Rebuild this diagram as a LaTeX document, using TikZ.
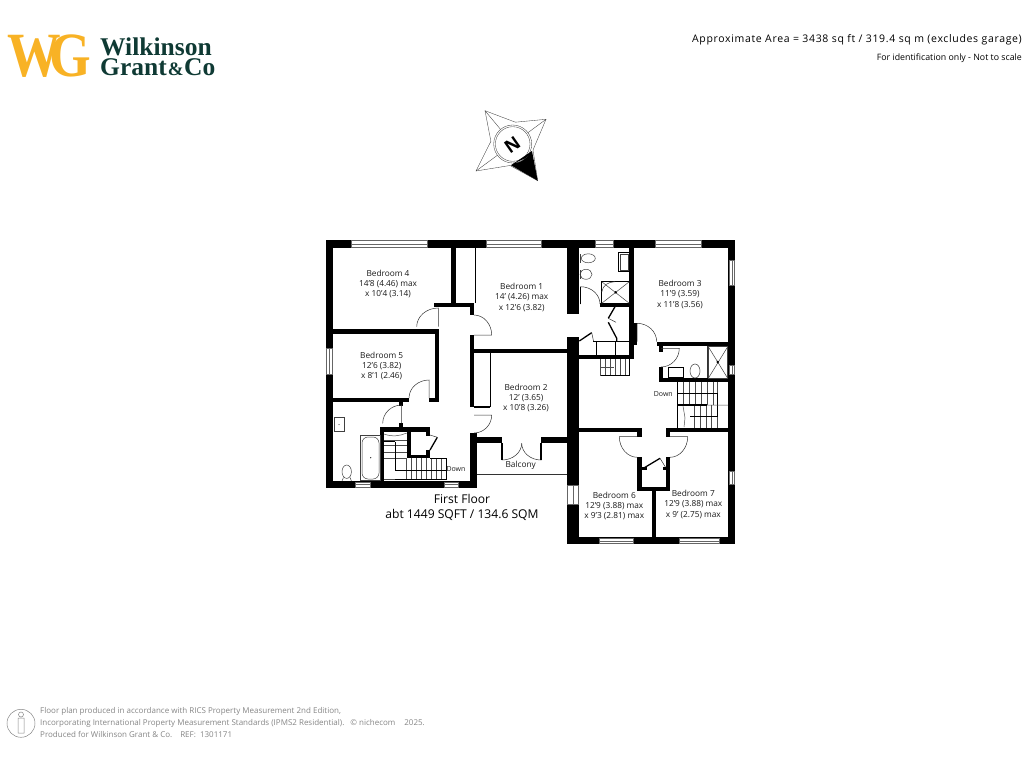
\documentclass[tikz,border=0pt]{standalone}
\usepackage{fontspec}
\usetikzlibrary{calc}
\setmainfont{Open Sans}
\newfontfamily\logofont{Liberation Serif}
\newfontfamily\widefont[LetterSpace=6.3]{Open Sans}
\definecolor{logoyellow}{HTML}{F8B225}
\definecolor{logogreen}{HTML}{0F3A34}
\definecolor{footgrey}{HTML}{858585}
\tikzset{
  wall/.style={fill=black,draw=none},
  windowpane/.style={fill=white,draw=black!60,line width=0.45pt},
  fixture/.style={draw=black!75,line width=0.5pt},
  tread/.style={draw=black!70,line width=0.5pt},
  doorline/.style={draw=black!80,line width=0.5pt},
  thickleaf/.style={draw=black,line width=1.3pt},
  roomlabel/.style={font=\fontsize{8.3}{10.2}\selectfont,align=center,text=black!90,inner sep=0pt},
  footline/.style={font=\fontsize{8}{9}\selectfont,text=footgrey,anchor=west,inner sep=0pt},
}
% leaf from hinge to start, then quarter swing to end
\newcommand{\doorswing}[3]{\draw[doorline] (#1) -- (#2) .. controls ($(#2)+.55*(#3)-.55*(#1)$) and ($(#3)+.55*(#2)-.55*(#1)$) .. (#3);}
\begin{document}
\begin{tikzpicture}[x=1pt,y=-1pt]
  \useasboundingbox (0,0) rectangle (1024,768);
  % logo
  \node[font=\logofont\bfseries\fontsize{63}{63}\selectfont,text=logoyellow,anchor=west,inner sep=0pt] (logowg) at (7,56) {\scalebox{0.85}[1]{W\kern-13ptG}};
  \node[font=\logofont\bfseries\fontsize{25.5}{20.5}\selectfont,text=logogreen,anchor=west,align=left,inner sep=0pt] (logoname) at (100,57) {Wilkinson\\Grant\kern1pt{\fontsize{19}{20.5}\selectfont\&}\kern0.5ptCo};
  % header
  \node[font=\widefont\fontsize{10.5}{11}\selectfont,anchor=east,inner sep=0pt] (areatext) at (1022,39.3) {Approximate Area = 3438 sq ft / 319.4 sq m (excludes garage)};
  \node[font=\fontsize{8.8}{9}\selectfont,anchor=east,inner sep=0pt] (scaletext) at (1022,57.7) {For identification only - Not to scale};
  % compass
  \draw[fixture,line width=0.35pt,fill=white] (485,110.7) -- (515.4,122.2) -- (546,119.3) -- (533,150) -- (537.7,180.7) -- (510,165.5) -- (476,171) -- (490.9,141.3) -- cycle;
  \draw[fixture,line width=0.35pt] (485,110.7) -- (512.7,144) (546,119.3) -- (512.7,144) (476,171) -- (512.7,144);
  \fill[black] (511,165.3) -- (532,151) -- (537.7,180.7) -- cycle;
  \draw[fixture,line width=0.35pt,fill=white] (512.7,144) circle (19);
  \draw[fixture,line width=0.35pt] (512.7,144) circle (17.3);
  \fill[black] (511,165.3) -- (532,151) -- (526,158) -- (517,162) -- cycle;
  \node[font=\bfseries\fontsize{18}{18}\selectfont,rotate=-145,inner sep=0pt] (northmark) at (512.3,145) {N};
  % walls
  \foreach \xa/\ya/\xb/\yb in {326/240/735/247.5, 326/240/333/487.5, 326/481/476.5/487.5,
    333/329/439/333.7, 434.7/329/439/401.7, 429/397.7/439/401.7, 333/397.7/409/401.7,
    399.3/401.7/403.3/405.7, 399.3/423.3/403.3/427.3, 434/302.7/473.7/307.3,
    451.3/248/456/303, 470/307/474/315, 470/335/474/406.7, 470/433/476.7/487.5,
    470/349/567/353.3, 474/437.3/502/443.3, 541/437.3/567/443.3,
    567/248/579/314, 567/336.7/579/544, 380/427.3/384/485, 380/427.3/430/431.7,
    407/431/411/458.3, 407/455/430/458.3, 426/431/430/436, 426/450/430/458,
    728.3/240/735/544, 567/537.3/735/544.3, 629.3/248/634/359, 579/355/634/359,
    600/303/634/307, 634/323.3/637.3/345, 656.7/341.7/735/345.7, 659/345/662.7/352,
    659/367/662.7/382, 659/378.3/735/382.3, 579/427.7/641.7/432.3, 666/427.7/735/432.3,
    637/432/641.7/437, 666/432/670/437, 637/457/641.7/490.7, 666/457/670/490.7,
    637/486.7/670/490.7, 651.7/490/656/537}
    \fill[wall] (\xa,\ya) rectangle (\xb,\yb);
  % windows
  \foreach \xa/\ya/\xb/\yb in {351.7/240.5/427.3/247, 486/240.5/541.7/247, 595/240.5/613.3/247, 655/240.5/701.7/247,
    355/482/370.7/487, 444/482/458.3/487, 599/538/633.3/543.5, 679/538/719.3/543.5}
    \draw[windowpane] (\xa,\ya) rectangle (\xb,\yb) (\xa,{(\ya+\yb)/2}) -- (\xb,{(\ya+\yb)/2});
  \foreach \xa/\ya/\xb/\yb in {326.5/348.3/332.5/374.3, 729/260/734.5/285, 729/365.7/734.5/374.3,
    729/471.7/734.5/484, 567.5/485/578/504.3}
    \draw[windowpane] (\xa,\ya) rectangle (\xb,\yb) ({(\xa+\xb)/2},\ya) -- ({(\xa+\xb)/2},\yb);
  % doors
  \doorswing{438.3,326.7}{438.3,308}{416.7,326.7}
  \doorswing{474,335}{491.7,335}{474,315}
  \doorswing{429,398}{429,380}{409,398}
  \doorswing{401.7,423.3}{401.7,405}{382.7,423.3}
  \doorswing{474,415}{491.7,415}{474,433}
  \doorswing{580.5,304}{580.5,286.7}{600,304}
  \doorswing{637,341.7}{637,323.3}{656.7,341.7}
  \doorswing{661,348.3}{679.3,348.3}{661,367}
  \doorswing{637.3,436.7}{619.3,436.7}{637.3,457.3}
  \doorswing{670,436.7}{687.7,436.7}{670,457.3}
  \doorswing{502,443.3}{502,460}{521.7,443.3}
  \doorswing{541,443.3}{541,460}{521.7,443.3}
  \draw[thickleaf] (502,443.3) -- (502,460) (541,443.3) -- (541,460) (580.5,286.7) -- (580.5,304);
  % cupboard doors
  \draw[thickleaf] (430,450) -- (437.3,437.3) (608.3,318.3) -- (615,306.7) (608.3,322.3) -- (616.7,338.3) -- (616.7,341) (579.3,341) -- (591.7,332.7) (641.7,469.3) -- (660,458.3);
  \draw[doorline] (430,435) -- (437.3,437.3) (608.3,318.3) -- (616,322.3) (591.7,332.7) -- (593.5,341) (660,458.3) -- (666,468);
  \fill[wall] (641.7,467) rectangle (647.3,470);
  \fill[wall] (662.7,467) rectangle (666,470);
  % closets and balcony
  \draw[black,line width=0.9pt] (475.7,248) -- (475.7,303);
  \draw[black,line width=0.9pt] (490,353) -- (490,407);
  \fill[wall] (474,406) rectangle (490,408);
  \draw[black!80,line width=1pt] (476.7,474) -- (567,474);
  \draw[black,line width=0.7pt] (593,341) -- (629.3,341) (596,341) -- (596,356) (615.3,341) -- (615.3,356);
  % stairs left
  \foreach \tx in {406.7,411.7,...,446.8}
    \draw[tread] (\tx,458.3) -- (\tx,479);
  \foreach \ty in {440.7,445.7,452.3,458.3}
    \draw[tread] (384,\ty) -- (406.7,\ty);
  \draw[tread] (384,434) .. controls (392,437) and (400,436) .. (406.7,433);
  \draw[black,line width=0.6pt] (430,458.3) -- (446.7,458.3) -- (446.7,479) -- (395,479);
  \draw[black,line width=0.6pt] (395,441.7) -- (395,470) -- (446.7,470) (384,441.7) -- (395,441.7);
  \draw[tread] (384,479) -- (395,479);
  % stairs middle
  \foreach \tx in {600.7,605.7,...,630}
    \draw[tread] (\tx,359) -- (\tx,375.7);
  \draw[black,line width=0.8pt] (600.7,375.7) -- (629.3,375.7) -- (629.3,359);
  \draw[tread] (600.7,367.5) -- (614,367.5);
  % stairs right
  \foreach \tx in {677,683,...,714,717}
    \draw[tread] (\tx,382.3) -- (\tx,405);
  \foreach \tx in {694.7,700.3,...,718}
    \draw[tread] (\tx,405) -- (\tx,427.7);
  \draw[black,line width=0.7pt] (677,382.3) -- (677,427.7);
  \draw[black,line width=0.6pt] (677,393.3) -- (717.3,393.3) -- (717.3,416.7) -- (690,416.7);
  \draw[black,line width=1.2pt] (678,405) -- (707,405);
  \draw[tread] (707,405) -- (728,405) (683,406) -- (685,418) -- (684,427);
  % bath and fixtures left
  \draw[fixture] (360,435.7) rectangle (380,480);
  \draw[fixture,rounded corners=6pt] (362,437) rectangle (379,479);
  \fill[black] (370.7,457.7) circle (0.6);
  \draw[fixture] (334,417.3) rectangle (344,431.7);
  \draw[fixture] (346.7,471.7) ellipse (4.7 and 6.7);
  \draw[fixture] (342,481) -- (343.5,477.5) (351.4,481) -- (350,477.5);
  \fill[black] (339,424.5) circle (0.5);
  % en-suite top
  \draw[fixture] (588.3,258.3) ellipse (7 and 4.5);
  \draw[fixture] (586,274.3) ellipse (6 and 5);
  \draw[fixture] (580,254) -- (580,263) (580,270) -- (580,279);
  \draw[black,line width=0.8pt] (618.3,252.3) rectangle (629.3,271.7);
  \draw[fixture] (620,254) rectangle (628,270);
  \draw[black,line width=0.8pt] (601.7,281.7) rectangle (629.3,303.3);
  \draw[fixture] (601.7,303.3) -- (629.3,281.7) (601.7,281.7) -- (629.3,303.3);
  \draw[fixture] (601.7,292) .. controls (603,285) and (608,282) .. (615,281.7);
  \fill[black] (615.7,292.3) circle (1.3);
  % en-suite lower
  \draw[black,line width=0.8pt] (668.3,367.7) rectangle (683.3,377.7);
  \draw[fixture] (695,371) ellipse (5 and 7);
  \draw[black!80,line width=0.7pt] (707.3,345.7) -- (707.3,378.3);
  \draw[fixture] (708.3,346.7) rectangle (727.7,378.3);
  \draw[fixture] (708.3,346.7) -- (727.7,378.3) (708.3,378.3) -- (727.7,346.7);
  \fill[black] (717.7,362) circle (1.3);
  % labels
  \node[roomlabel] (bedroomfour) at (388,284) {Bedroom 4\\14'8 (4.46) max\\x 10'4 (3.14)};
  \node[roomlabel] (bedroomone) at (521.7,297.3) {Bedroom 1\\14' (4.26) max\\x 12'6 (3.82)};
  \node[roomlabel] (bedroomfive) at (381.7,366.2) {Bedroom 5\\12'6 (3.82)\\x 8'1 (2.46)};
  \node[roomlabel] (bedroomtwo) at (526,397.7) {Bedroom 2\\12' (3.65)\\x 10'8 (3.26)};
  \node[roomlabel] (bedroomthree) at (680,294.3) {Bedroom 3\\11'9 (3.59)\\x 11'8 (3.56)};
  \node[roomlabel] (bedroomsix) at (614.3,506) {Bedroom 6\\12'9 (3.88) max\\x 9'3 (2.81) max};
  \node[roomlabel] (bedroomseven) at (693.3,504.3) {Bedroom 7\\12'9 (3.88) max\\x 9' (2.75) max};
  \node[roomlabel] (balconylabel) at (520.7,465) {Balcony};
  \node[roomlabel,font=\fontsize{7}{9}\selectfont] (downleft) at (456,469.3) {Down};
  \node[roomlabel,font=\fontsize{7}{9}\selectfont] (downright) at (663.3,394.3) {Down};
  \node[font=\fontsize{12.1}{15}\selectfont,align=center,inner sep=0pt] (floorlabel) at (462,507) {First Floor\\abt 1449 SQFT / 134.6 SQM};
  % footer
  \draw[footgrey,line width=0.5pt] (21,723.3) circle (14);
  \draw[footgrey,line width=0.5pt] (21,714.5) circle (2.5) (18,718) rectangle (24,733);
  \node[footline] (footone) at (40,711.7) {Floor plan produced in accordance with RICS Property Measurement 2nd Edition,};
  \node[footline] (foottwo) at (40,723) {Incorporating International Property Measurement Standards (IPMS2 Residential).\hspace{6pt}© nichecom\hspace{9pt}2025.};
  \node[footline] (footthree) at (40,734) {Produced for Wilkinson Grant \& Co.\quad REF:\ \ 1301171};
\end{tikzpicture}
\end{document}
